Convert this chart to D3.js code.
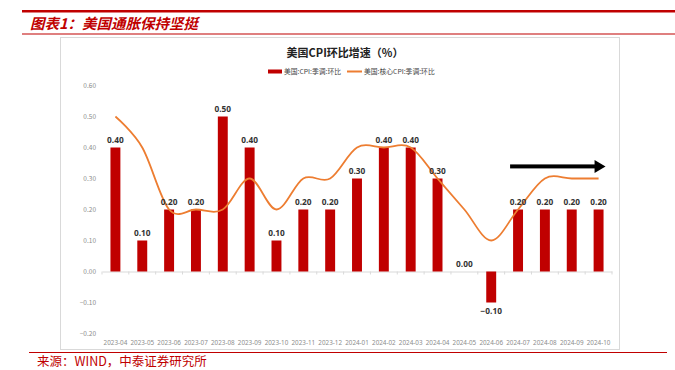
<!DOCTYPE html>
<html>
<head>
<meta charset="utf-8">
<script src="https://cdn.jsdelivr.net/npm/d3@7/dist/d3.min.js"></script>
<style>
  body { margin: 0; background: #fff; }
  svg { display: block; font-family: "Noto Sans CJK SC", "Noto Sans", sans-serif; }
</style>
</head>
<body>
<div id="chart"></div>
<script>
var months = ['2023-04','2023-05','2023-06','2023-07','2023-08','2023-09','2023-10','2023-11','2023-12',
  '2024-01','2024-02','2024-03','2024-04','2024-05','2024-06','2024-07','2024-08','2024-09','2024-10'];
var cpi = [0.4, 0.1, 0.2, 0.2, 0.5, 0.4, 0.1, 0.2, 0.2, 0.3, 0.4, 0.4, 0.3, 0.0, -0.1, 0.2, 0.2, 0.2, 0.2];
var core = [0.5, 0.4, 0.2, 0.2, 0.2, 0.3, 0.2, 0.3, 0.3, 0.4, 0.4, 0.4, 0.3, 0.2, 0.1, 0.2, 0.3, 0.3, 0.3];
var yTicks = [-0.2, -0.1, 0, 0.1, 0.2, 0.3, 0.4, 0.5, 0.6];

var W = 675, H = 370;
var red = '#c00000', orange = '#ed7d31';
var svg = d3.select('#chart').append('svg').attr('width', W).attr('height', H);

// page header
svg.append('rect').attr('x', 22).attr('y', 10).attr('width', W - 22).attr('height', 2.5).attr('fill', red);
svg.append('text').attr('x', 30).attr('y', 29)
  .attr('fill', red).attr('font-size', 14.5).attr('font-weight', 'bold').attr('font-style', 'italic')
  .text('图表1：美国通胀保持坚挺');
svg.append('rect').attr('x', 22).attr('y', 33.5).attr('width', W - 22).attr('height', 1).attr('fill', red);

// chart frame
svg.append('rect').attr('x', 60.5).attr('y', 37.5).attr('width', 559).attr('height', 312)
  .attr('fill', 'none').attr('stroke', '#d9d9d9');

// footer
svg.append('rect').attr('x', 29).attr('y', 352).attr('width', 638).attr('height', 1).attr('fill', red);
svg.append('text').attr('x', 37).attr('y', 365.5).attr('fill', red).attr('font-size', 12.5)
  .text('来源：WIND，中泰证券研究所');

// chart title and legend
svg.append('text').attr('x', 345).attr('y', 56.5).attr('text-anchor', 'middle')
  .attr('font-size', 11).attr('font-weight', 'bold').attr('fill', '#222')
  .text('美国CPI环比增速（%）');
svg.append('rect').attr('x', 268).attr('y', 69.5).attr('width', 14).attr('height', 4).attr('fill', red);
svg.append('text').attr('x', 284).attr('y', 74).attr('font-size', 6.8).attr('fill', '#444').text('美国:CPI:季调:环比');
svg.append('line').attr('x1', 347).attr('x2', 362).attr('y1', 71.5).attr('y2', 71.5)
  .attr('stroke', orange).attr('stroke-width', 2);
svg.append('text').attr('x', 364).attr('y', 74).attr('font-size', 6.8).attr('fill', '#444').text('美国:核心CPI:季调:环比');

// scales
var x = d3.scaleBand().domain(months).range([102, 612]).paddingInner(0.63).paddingOuter(0.315);
var y = d3.scaleLinear().domain([-0.2, 0.6]).range([333.5, 85.5]);

// y axis labels
svg.append('g').selectAll('text').data(yTicks).enter().append('text')
  .attr('x', 96).attr('y', function(d) { return y(d) + 2.3; })
  .attr('text-anchor', 'end').attr('font-size', 6.5).attr('fill', '#8c8c8c')
  .text(function(d) { return d3.format('.2f')(d); });

// x axis
var xAxis = d3.axisBottom(x).tickSize(0).tickPadding(0);
var gx = svg.append('g').attr('transform', 'translate(0,' + y(0) + ')').call(xAxis);
gx.select('.domain').attr('stroke', '#d9d9d9');
gx.selectAll('.tick text').attr('font-size', 6.3).attr('fill', '#8c8c8c')
  .attr('font-family', '"Noto Sans", sans-serif')
  .attr('y', 0).attr('dy', 0).attr('transform', 'translate(0,' + (342.5 - y(0) + 2) + ')');
var step = x.step();
gx.selectAll('.sep').data(months).enter().append('line')
  .attr('x1', function(d) { return x(d) + x.bandwidth() / 2 + step / 2; })
  .attr('x2', function(d) { return x(d) + x.bandwidth() / 2 + step / 2; })
  .attr('y1', 0).attr('y2', 3).attr('stroke', '#d9d9d9');
gx.append('line').attr('x1', 102).attr('x2', 102).attr('y1', 0).attr('y2', 3).attr('stroke', '#d9d9d9');

// bars
svg.append('g').selectAll('rect').data(cpi).enter().append('rect')
  .attr('x', function(d, i) { return x(months[i]); })
  .attr('width', x.bandwidth())
  .attr('y', function(d) { return y(Math.max(d, 0)); })
  .attr('height', function(d) { return Math.abs(y(d) - y(0)); })
  .attr('fill', red);

// core line
var line = d3.line()
  .x(function(d, i) { return x(months[i]) + x.bandwidth() / 2; })
  .y(function(d) { return y(d); })
  .curve(d3.curveCardinal.tension(0));
svg.append('path').datum(core).attr('d', line)
  .attr('fill', 'none').attr('stroke', orange).attr('stroke-width', 1.8);

// data labels
svg.append('g').selectAll('text').data(cpi).enter().append('text')
  .attr('x', function(d, i) { return x(months[i]) + x.bandwidth() / 2; })
  .attr('y', function(d) { return d < 0 ? y(d) + 11.5 : y(d) - 4.5; })
  .attr('text-anchor', 'middle').attr('font-size', 8.3).attr('font-weight', 'bold')
  .attr('fill', '#333').attr('font-family', '"Open Sans", "Noto Sans", sans-serif')
  .text(function(d) { return d3.format('.2f')(d); });

// trend arrow
var ax0 = x('2024-07') - 3, ax1 = x('2024-10') + x.bandwidth() + 2, ay = y(0.339);
svg.append('rect').attr('x', ax0).attr('y', ay - 2).attr('width', ax1 - 10 - ax0).attr('height', 4).attr('fill', '#000');
svg.append('path').attr('d', 'M' + (ax1 - 11) + ',' + (ay - 6.5) + 'L' + ax1 + ',' + ay + 'L' + (ax1 - 11) + ',' + (ay + 6.5) + 'Z')
  .attr('fill', '#000');
</script>
</body>
</html>
